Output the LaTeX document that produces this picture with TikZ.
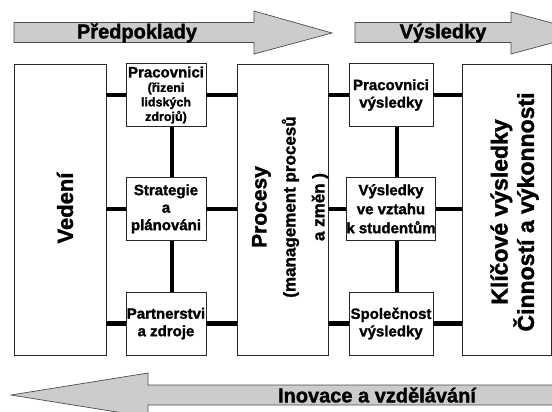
\documentclass[tikz,border=0pt]{standalone}
\usepackage{fontspec}
\setmainfont{Liberation Sans}[BoldFeatures={FakeBold=1.5}]
\usetikzlibrary{positioning}
\newcommand{\smallline}{\fontsize{12.5}{14.5}\selectfont}

\begin{document}
\begin{tikzpicture}[x=1pt, y=-1pt,
  pillar/.style={
    rectangle, draw=black!85, line width=0.8pt, fill=white,
    minimum width=#1, minimum height=291pt, inner sep=0pt
  },
  block/.style={
    rectangle, draw=black!85, line width=0.8pt, fill=white,
    minimum width=80pt, minimum height=63pt, inner sep=0pt,
    align=center, font=\fontsize{15}{17.5}\selectfont\bfseries
  },
  upright/.style={rotate=90, align=center, inner sep=0pt},
  link/.style={line width=4.5pt, color=black},
  flow/.style={fill=gray!40, draw=black!70, line width=0.7pt},
  flowtext/.style={font=\fontsize{20}{24}\selectfont\bfseries, inner sep=0pt}
]
  \useasboundingbox (0,0) rectangle (552,412);

  % top and bottom arrows
  \draw[flow] (14,22.5) -- (254,22.5) -- (254,11) -- (332,33) -- (254,54) -- (254,42.5) -- (14,42.5) -- cycle;
  \draw[flow] (355,22.5) -- (511,22.5) -- (511,12) -- (589,33) -- (511,54) -- (511,42.5) -- (355,42.5) -- cycle;
  \draw[flow] (570,385) -- (148,385) -- (148,373) -- (11,395) -- (148,417) -- (148,405) -- (570,405) -- cycle;
  \node[flowtext] (predp) at (137,33) {Předpoklady};
  \node[flowtext] (vysl) at (443,33) {Výsledky};
  \node[flowtext] (inov) at (377,395) {Inovace a vzdělávání};

  % columns
  \node[pillar=92pt] (vedeni) at (60,209.5) {};
  \node[block] (prac) at (166,95)
    {Pracovnici\\[-3pt]\smallline (řizeni\\[-3pt]\smallline lidských\\[-3pt]\smallline zdrojů)};
  \node[block, below=50pt of prac] (strat) {Strategie\\a\\plánováni};
  \node[block, below=51pt of strat] (partner) {Partnerstvi\\a zdroje};
  \node[pillar=91pt] (procesy) at (282.5,209.5) {};
  \node[block, minimum width=84pt] (pvysl) at (391,95) {Pracovnici\\výsledky};
  \node[block, minimum width=84pt, below=50pt of pvysl, font=\fontsize{15}{19}\selectfont\bfseries] (vysstud)
    {Výsledky\\ve vztahu\\k studentům};
  \node[block, minimum width=84pt, below=51pt of vysstud] (spol) {Společnost\\výsledky};
  \node[pillar=89pt] (klicove) at (506.5,209.5) {};

  % rotated captions
  \node[upright, font=\fontsize{22}{26}\selectfont\bfseries] (vedenitxt) at (65,208) {Vedení};
  \node[upright, font=\fontsize{17}{29}\selectfont\bfseries] (procesytxt) at (290,207)
    {\fontsize{21}{28}\selectfont Procesy\\(management procesů\\a změn )};
  \node[upright, font=\fontsize{23}{25}\selectfont\bfseries] (klicovetxt) at (514.5,212)
    {Klíčové výsledky\\Činností a výkonnosti};

  % links
  \foreach \b in {prac, strat, partner} {
    \draw[link] (vedeni.east |- \b.west) -- (\b.west);
    \draw[link] (\b.east) -- (procesy.west |- \b.east);
  }
  \foreach \b in {pvysl, vysstud, spol} {
    \draw[link] (procesy.east |- \b.west) -- (\b.west);
    \draw[link] (\b.east) -- (klicove.west |- \b.east);
  }
  \draw[link] ([xshift=6pt]prac.south) -- ([xshift=6pt]strat.north);
  \draw[link] ([xshift=6pt]strat.south) -- ([xshift=6pt]partner.north);
  \draw[link] ([xshift=6pt]pvysl.south) -- ([xshift=6pt]vysstud.north);
  \draw[link] ([xshift=6pt]vysstud.south) -- ([xshift=6pt]spol.north);
\end{tikzpicture}
\end{document}
